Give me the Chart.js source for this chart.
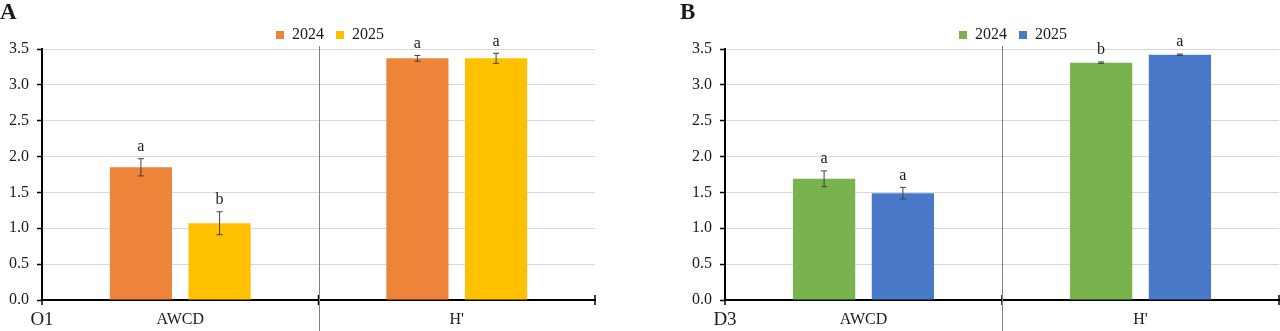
<!DOCTYPE html>
<html>
<head>
<meta charset="utf-8">
<script src="https://cdn.jsdelivr.net/npm/chart.js@4.4.1/dist/chart.umd.min.js"></script>
<style>
  html, body { margin: 0; padding: 0; background: #fff; }
  #wrap { position: relative; width: 1280px; height: 331px; overflow: hidden; }
  canvas { position: absolute; top: 0; }
  #cA { left: 0; }
  #cB { left: 640px; }
</style>
</head>
<body>
<div id="wrap">
  <canvas id="cA" width="640" height="331"></canvas>
  <canvas id="cB" width="640" height="331"></canvas>
</div>
<script>
// ---- data ----
const categories = ["AWCD", "H'"];
const seriesNames = ["2024", "2025"];
const yTicks = [0, 0.5, 1.0, 1.5, 2.0, 2.5, 3.0, 3.5];

// Panel A (O1)
const a2024 = [1.85, 3.37];
const a2025 = [1.07, 3.37];
const a2024Err = [0.12, 0.04];
const a2025Err = [0.16, 0.07];
const a2024Sig = ["a", "a"];
const a2025Sig = ["b", "a"];

// Panel B (D3)
const b2024 = [1.69, 3.31];
const b2025 = [1.49, 3.42];
const b2024Err = [0.11, 0.01];
const b2025Err = [0.08, 0.01];
const b2024Sig = ["a", "b"];
const b2025Sig = ["a", "a"];

const FONT = "'Liberation Serif', 'Times New Roman', serif";
const TXT = '#1a1a1a';

const annotPlugin = {
  id: 'annot',
  afterDatasetsDraw(chart) {
    const ctx = chart.ctx;
    const area = chart.chartArea;
    const x = chart.scales.x, y = chart.scales.y;
    const o = chart.options.plugins.annot;
    ctx.save();
    // error bars + significance letters
    chart.data.datasets.forEach((ds, di) => {
      const meta = chart.getDatasetMeta(di);
      meta.data.forEach((bar, i) => {
        const v = ds.data[i], e = ds.err[i];
        const yt = y.getPixelForValue(v + e), yb = y.getPixelForValue(v - e);
        const cx = bar.x;
        ctx.strokeStyle = '#404040';
        ctx.lineWidth = 1;
        ctx.beginPath();
        ctx.moveTo(cx, yt); ctx.lineTo(cx, yb);
        ctx.moveTo(cx - 3, yt); ctx.lineTo(cx + 3, yt);
        ctx.moveTo(cx - 3, yb); ctx.lineTo(cx + 3, yb);
        ctx.stroke();
        ctx.fillStyle = TXT;
        ctx.font = '16px ' + FONT;
        ctx.textAlign = 'center';
        ctx.textBaseline = 'middle';
        ctx.fillText(ds.sig[i], cx, yt - 12);
      });
    });
    // category boundaries
    const n = chart.data.labels.length;
    const bounds = [];
    for (let i = 0; i <= n; i++) {
      if (i === 0) bounds.push(area.left);
      else if (i === n) bounds.push(area.right);
      else bounds.push((x.getPixelForValue(i - 1) + x.getPixelForValue(i)) / 2);
    }
    bounds.forEach((bx, i) => {
      ctx.strokeStyle = '#000';
      ctx.lineWidth = 1.5;
      ctx.beginPath();
      ctx.moveTo(bx, area.bottom - 5); ctx.lineTo(bx, area.bottom + 5);
      ctx.stroke();
      if (i > 0 && i < n) {
        ctx.strokeStyle = '#7f7f7f';
        ctx.lineWidth = 1;
        ctx.beginPath();
        ctx.moveTo(Math.round(bx) + 0.5, area.top - 3);
        ctx.lineTo(Math.round(bx) + 0.5, chart.height);
        ctx.stroke();
      }
    });
    // outer group label
    ctx.fillStyle = TXT;
    ctx.font = '19px ' + FONT;
    ctx.textAlign = 'center';
    ctx.textBaseline = 'middle';
    ctx.fillText(o.group, area.left, area.bottom + 20);
    // panel letter
    ctx.font = 'bold 23px ' + FONT;
    ctx.textAlign = 'left';
    ctx.textBaseline = 'top';
    ctx.fillText(o.panel, o.panelX, 2);
    ctx.restore();
  },
  afterLayout(chart) {
    const lg = chart.legend;
    const o = chart.options.plugins.annot;
    if (lg) {
      lg.left = chart.chartArea.left + o.legendOffset - lg.options.labels.padding;
    }
  }
};

function makeChart(id, d1, d2, e1, e2, s1, s2, colors, group, panel, panelX, padL, padR) {
  return new Chart(document.getElementById(id), {
    type: 'bar',
    data: {
      labels: categories,
      datasets: [
        { label: seriesNames[0], data: d1, err: e1, sig: s1, backgroundColor: colors[0],
          categoryPercentage: 0.569, barPercentage: 0.79 },
        { label: seriesNames[1], data: d2, err: e2, sig: s2, backgroundColor: colors[1],
          categoryPercentage: 0.569, barPercentage: 0.79 }
      ]
    },
    options: {
      responsive: false,
      animation: false,
      layout: { padding: { left: padL, right: padR, top: 15, bottom: 0 } },
      plugins: {
        legend: {
          display: true,
          position: 'top',
          align: 'start',
          maxHeight: 34,
          labels: {
            boxWidth: 8, boxHeight: 8, padding: 12,
            color: TXT,
            font: { family: FONT, size: 16 }
          }
        },
        tooltip: { enabled: false },
        annot: { group: group, panel: panel, panelX: panelX, legendOffset: 234 }
      },
      scales: {
        x: {
          type: 'category',
          offset: true,
          grid: { display: false },
          border: { display: true, color: '#000', width: 2 },
          ticks: { color: TXT, font: { family: FONT, size: 16 }, padding: 2, maxRotation: 0 },
          afterFit(s) { s.height = 31; }
        },
        y: {
          min: 0, max: 3.5,
          afterBuildTicks(s) { s.ticks = yTicks.map(v => ({ value: v })); },
          ticks: {
            color: TXT, padding: 8,
            font: { family: FONT, size: 16 },
            callback: v => Number(v).toFixed(1)
          },
          grid: { color: '#d9d9d9', lineWidth: 1, tickColor: '#000', tickLength: 5, tickWidth: 1.5 },
          border: { display: true, color: '#000', width: 2 },
          afterFit(s) { s.width = 42; }
        }
      }
    },
    plugins: [annotPlugin]
  });
}

makeChart('cA', a2024, a2025, a2024Err, a2025Err, a2024Sig, a2025Sig,
  ['#EE8439', '#FFC000'], 'O1', 'A', 0, 0, 45);
makeChart('cB', b2024, b2025, b2024Err, b2025Err, b2024Sig, b2025Sig,
  ['#78B34E', '#4A79C9'], 'D3', 'B', 40, 43, 1);
</script>
</body>
</html>
